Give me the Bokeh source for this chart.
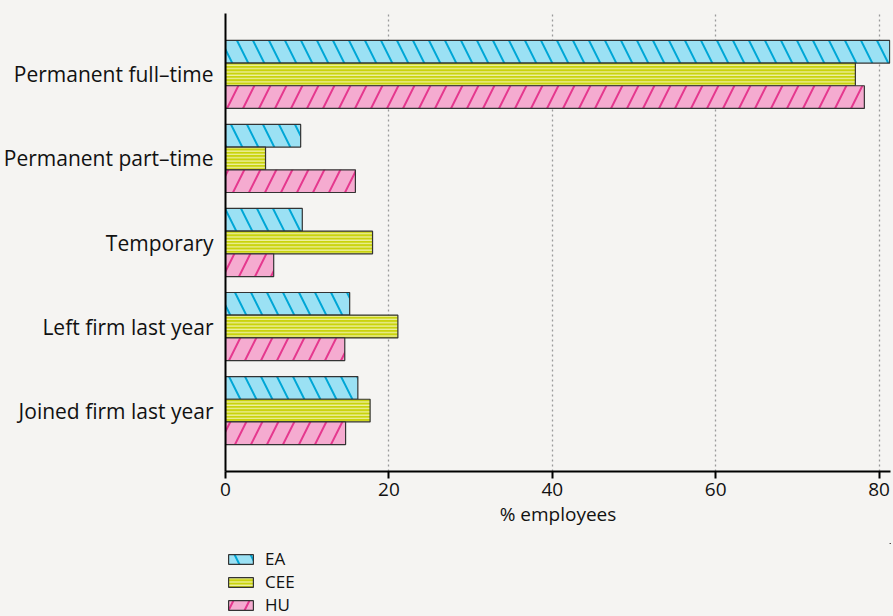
from bokeh.plotting import figure
from bokeh.layouts import column
from bokeh.models import ColumnDataSource, FactorRange, Range1d, FixedTicker, Legend, LegendItem
from bokeh.transform import dodge
from bokeh.embed import file_html
from bokeh.resources import INLINE

categories = ["Permanent full\u2013time", "Permanent part\u2013time", "Temporary",
              "Left firm last year", "Joined firm last year"]
ea = [81.3, 9.2, 9.4, 15.2, 16.2]
cee = [77.1, 4.9, 18.0, 21.1, 17.7]
hu = [78.2, 15.9, 5.9, 14.6, 14.7]
series_names = ["EA", "CEE", "HU"]
x_ticks = [0, 20, 40, 60, 80]

FONT = "Open Sans"
BG = "#f5f4f2"

src = ColumnDataSource(data=dict(cat=categories, EA=ea, CEE=cee, HU=hu))

styles = {
    "EA": dict(fill_color="#9be1f4", hatch_pattern="\\", hatch_color="#00a6d6", hatch_scale=32, hatch_weight=2, offset=0.27),
    "CEE": dict(fill_color="#c9d30c", hatch_pattern="-", hatch_color="#eef0a0", hatch_scale=3.3, hatch_weight=1.3, offset=0.0),
    "HU": dict(fill_color="#f5abd0", hatch_pattern="/", hatch_color="#e5388e", hatch_scale=32, hatch_weight=2, offset=-0.27),
}


def add_bars(fig, shift=0.0):
    out = {}
    for name in series_names:
        s = styles[name]
        out[name] = fig.hbar(y=dodge("cat", s["offset"] + shift, range=fig.y_range), right=name, left=0,
                             height=0.27, source=src, fill_color=s["fill_color"],
                             hatch_pattern=s["hatch_pattern"], hatch_color=s["hatch_color"],
                             hatch_scale=s["hatch_scale"], hatch_weight=s["hatch_weight"],
                             line_color="#333333", line_width=1.2)
    return out


# ---- main chart ----
p = figure(frame_width=665, frame_height=458, output_backend="svg", toolbar_location=None,
           y_range=FactorRange(factors=list(reversed(categories)), range_padding=0.09),
           x_range=Range1d(0, 81.4),
           min_border_left=225, min_border_right=3, min_border_top=13, min_border_bottom=72)
p.background_fill_color = BG
p.border_fill_color = BG
p.outline_line_color = None
add_bars(p)

p.ygrid.grid_line_color = None
p.xgrid.grid_line_color = "#9a9a9a"
p.xgrid.grid_line_dash = "2 3"
p.xgrid.grid_line_width = 1.3
p.xgrid.ticker = FixedTicker(ticks=x_ticks)

p.xaxis.ticker = FixedTicker(ticks=x_ticks)
p.xaxis.axis_line_width = 2
p.xaxis.axis_line_color = "black"
p.xaxis.major_tick_line_width = 2
p.xaxis.major_tick_line_color = "black"
p.xaxis.major_tick_out = 7
p.xaxis.major_tick_in = 0
p.xaxis.minor_tick_line_color = None
p.xaxis.major_label_text_font = FONT
p.xaxis.major_label_text_font_size = "19px"
p.xaxis.major_label_text_color = "#111111"
p.xaxis.major_label_standoff = 4
p.xaxis.axis_label = "% employees"
p.xaxis.axis_label_text_font = FONT
p.xaxis.axis_label_text_font_size = "19px"
p.xaxis.axis_label_text_font_style = "normal"
p.xaxis.axis_label_text_color = "#111111"
p.xaxis.axis_label_standoff = 2

p.yaxis.axis_line_width = 2
p.yaxis.axis_line_color = "black"
p.yaxis.major_tick_line_color = None
p.yaxis.minor_tick_line_color = None
p.yaxis.major_label_text_font = FONT
p.yaxis.major_label_text_font_size = "21px"
p.yaxis.major_label_text_color = "#111111"
p.yaxis.major_label_standoff = 6

# ---- legend strip (its bars lie outside its visible ranges; only the legend shows) ----
lg = figure(frame_width=665, frame_height=73, output_backend="svg", toolbar_location=None,
            y_range=FactorRange(factors=list(reversed(categories))),
            x_range=Range1d(-20, -10),
            x_axis_location=None, y_axis_location=None,
            min_border_left=225, min_border_right=3, min_border_top=0, min_border_bottom=0,
            styles={"background-color": BG})
lg.background_fill_color = BG
lg.border_fill_color = BG
lg.outline_line_color = None
lg.xgrid.grid_line_color = None
lg.ygrid.grid_line_color = None
legend_renderers = add_bars(lg, shift=20.0)

legend_y = {"EA": 46, "CEE": 23, "HU": 0}
for n in series_names:
    leg = Legend(items=[LegendItem(label=n, renderers=[legend_renderers[n]])],
                 location=(0, legend_y[n]), orientation="vertical",
                 glyph_width=31, glyph_height=12, label_height=20, spacing=0,
                 label_standoff=9, padding=0, margin=0,
                 label_text_font=FONT, label_text_font_size="17px", label_text_color="#111111",
                 border_line_color=None, background_fill_alpha=0)
    lg.add_layout(leg, "center")

layout = column(p, lg, spacing=0, styles={"background-color": BG})
open("out.html", "w").write(file_html(layout, INLINE))
